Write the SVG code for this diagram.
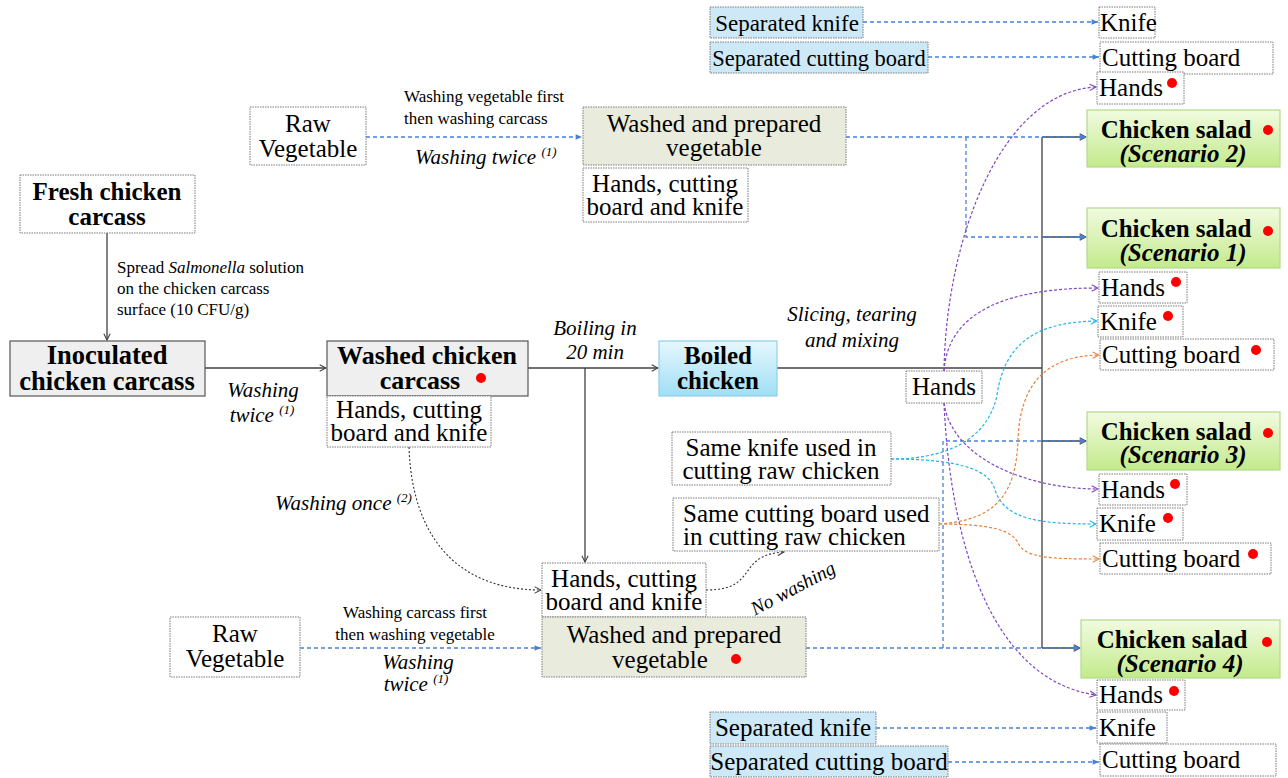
<svg xmlns="http://www.w3.org/2000/svg" width="1288" height="778" viewBox="0 0 1288 778">
<defs>
<style>
.t{font-family:"Liberation Serif","Times New Roman",serif;font-size:25px;fill:#000}
.b{font-weight:bold}
.i{font-style:italic}
.s{font-size:17px}
.m{text-anchor:middle}
.box{fill:#fff;stroke:#7a7a7a;stroke-width:1;stroke-dasharray:1.5 1}
.grey{fill:#efefef;stroke:#555;stroke-width:1.2}
.sep{fill:#cde9f8;stroke:#7a7a7a;stroke-width:1;stroke-dasharray:1.5 1}
.veg{fill:#e9ecdd;stroke:#7a7a7a;stroke-width:1;stroke-dasharray:1.5 1}
.salad{fill:url(#gSalad);stroke:#b3d98a;stroke-width:1.2}
.boiled{fill:url(#gBoil);stroke:#8fd0ea;stroke-width:1.2}
.dot{fill:#f00}
.solid{fill:none;stroke:#404040;stroke-width:1.3}
.blue{fill:none;stroke:#4a80d2;stroke-width:1.3;stroke-dasharray:4 3}
.pur{fill:none;stroke:#7e46c4;stroke-width:1.2;stroke-dasharray:3 2}
.cya{fill:none;stroke:#22b4ea;stroke-width:1.2;stroke-dasharray:3 2}
.ora{fill:none;stroke:#e9813a;stroke-width:1.2;stroke-dasharray:3 2}
.blk{fill:none;stroke:#333;stroke-width:1.1;stroke-dasharray:2 2}
.lbl{font-size:21px}
.sup{font-size:13px}
</style>
<linearGradient id="gSalad" x1="0" y1="0" x2="0" y2="1"><stop offset="0" stop-color="#f1fbe0"/><stop offset="1" stop-color="#c3ea8c"/></linearGradient>
<linearGradient id="gBoil" x1="0" y1="0" x2="0" y2="1"><stop offset="0" stop-color="#e6f7fd"/><stop offset="1" stop-color="#9fdff5"/></linearGradient>
<marker id="aK" viewBox="0 0 10 10" refX="9" refY="5" markerWidth="9" markerHeight="9" orient="auto" markerUnits="userSpaceOnUse"><path d="M2,1.5 L9,5 L2,8.5" fill="none" stroke="#404040" stroke-width="1.2"/></marker>
<marker id="aB" viewBox="0 0 10 10" refX="9" refY="5" markerWidth="8" markerHeight="8" orient="auto" markerUnits="userSpaceOnUse"><path d="M1,1.5 L9,5 L1,8.5 Z" fill="#4a80d2"/></marker>
<marker id="aP" viewBox="0 0 10 10" refX="9" refY="5" markerWidth="9" markerHeight="9" orient="auto" markerUnits="userSpaceOnUse"><path d="M2,1.5 L9,5 L2,8.5" fill="none" stroke="#7e46c4" stroke-width="1.2"/></marker>
<marker id="aC" viewBox="0 0 10 10" refX="9" refY="5" markerWidth="9" markerHeight="9" orient="auto" markerUnits="userSpaceOnUse"><path d="M2,1.5 L9,5 L2,8.5" fill="none" stroke="#22b4ea" stroke-width="1.2"/></marker>
<marker id="aO" viewBox="0 0 10 10" refX="9" refY="5" markerWidth="9" markerHeight="9" orient="auto" markerUnits="userSpaceOnUse"><path d="M2,1.5 L9,5 L2,8.5" fill="none" stroke="#e9813a" stroke-width="1.2"/></marker>
<marker id="aD" viewBox="0 0 10 10" refX="9" refY="5" markerWidth="9" markerHeight="9" orient="auto" markerUnits="userSpaceOnUse"><path d="M2,1.5 L9,5 L2,8.5" fill="none" stroke="#333" stroke-width="1.1"/></marker>
</defs>
<rect width="1288" height="778" fill="#fff"/>

<g id="connectors">
<path class="solid" d="M107,233 V340" marker-end="url(#aK)"/>
<path class="solid" d="M205,368 H326" marker-end="url(#aK)"/>
<path class="solid" d="M528,368 H658" marker-end="url(#aK)"/>
<path class="solid" d="M585,368 V562" marker-end="url(#aK)"/>
<path class="solid" d="M777,368 H1042"/>
<path class="solid" d="M1042,137 V648"/>
<path class="solid" d="M1042,137 H1086" marker-end="url(#aK)"/>
<path class="solid" d="M1042,237 H1086" marker-end="url(#aK)"/>
<path class="solid" d="M1042,441 H1086" marker-end="url(#aK)"/>
<path class="solid" d="M1042,648 H1080" marker-end="url(#aK)"/>
<path class="blue" d="M863,22 H1098" marker-end="url(#aB)"/>
<path class="blue" d="M928,57 H1099" marker-end="url(#aB)"/>
<path class="blue" d="M366,137 H582" marker-end="url(#aB)"/>
<path class="blue" d="M846,137 H1086" marker-end="url(#aB)"/>
<path class="blue" d="M966,137 V237 H1086" marker-end="url(#aB)"/>
<path class="blue" d="M300,648 H541" marker-end="url(#aB)"/>
<path class="blue" d="M806,648 H1080" marker-end="url(#aB)"/>
<path class="blue" d="M943,648 V441 H1086" marker-end="url(#aB)"/>
<path class="blue" d="M876,728 H1096" marker-end="url(#aB)"/>
<path class="blue" d="M948,762 H1099" marker-end="url(#aB)"/>
<path class="pur" d="M944,371 C946,240 1000,92 1096,87" marker-end="url(#aP)"/>
<path class="pur" d="M944,371 C948,310 1010,288 1098,288" marker-end="url(#aP)"/>
<path class="pur" d="M944,403 C952,460 1030,489 1098,489" marker-end="url(#aP)"/>
<path class="pur" d="M944,403 C950,540 990,680 1096,695" marker-end="url(#aP)"/>
<path class="cya" d="M891,459 C960,459 990,430 997,395 C1005,340 1040,322 1097,321" marker-end="url(#aC)"/>
<path class="cya" d="M891,459 C960,459 990,470 995,490 C1005,520 1040,524 1096,524" marker-end="url(#aC)"/>
<path class="ora" d="M939,524 C1000,520 1016,490 1018,440 C1020,380 1050,356 1099,355" marker-end="url(#aO)"/>
<path class="ora" d="M939,524 C990,524 1012,530 1018,543 C1025,558 1050,559 1099,559" marker-end="url(#aO)"/>
<path class="blk" d="M409,447 C412,540 460,590 541,590" marker-end="url(#aD)"/>
<path class="blk" d="M706,590 C760,590 735,555 784,552" marker-end="url(#aD)"/>
</g>

<g id="sep-knife-top"><rect class="sep" x="710" y="7" width="153" height="31"/><text class="t m" x="787" y="31" style="font-size:23px">Separated knife</text></g>
<g id="sep-board-top"><rect class="sep" x="710" y="42" width="218" height="31"/><text class="t m" x="819" y="66" style="font-size:22.5px">Separated cutting board</text></g>
<g id="knife-top"><rect class="box" x="1099" y="7" width="56" height="31"/><text class="t" x="1100" y="31">Knife</text></g>
<g id="board-top"><rect class="box" x="1100" y="42" width="173" height="32"/><text class="t" x="1102" y="66">Cutting board</text></g>
<g id="hands-s2"><rect class="box" x="1097" y="72" width="87" height="32"/><text class="t" x="1099" y="96">Hands</text><circle class="dot" cx="1172" cy="83" r="5"/></g>
<g id="salad-s2"><rect class="salad" x="1087" y="110" width="193" height="57"/><text class="t b m" x="1176" y="138">Chicken salad</text><text class="t b i m" x="1183" y="162">(Scenario 2)</text><circle class="dot" cx="1268" cy="130" r="5"/></g>

<g id="raw-veg-top"><rect class="box" x="250" y="107" width="116" height="58"/><text class="t m" x="308" y="132">Raw</text><text class="t m" x="308" y="157">Vegetable</text></g>
<g id="lbl-veg-first"><text class="t s" x="404" y="102">Washing vegetable first</text><text class="t s" x="404" y="124">then washing carcass</text><text class="t i lbl" x="415" y="164">Washing twice <tspan class="sup" dy="-8">(1)</tspan></text></g>
<g id="washed-veg-top"><rect class="veg" x="583" y="107" width="263" height="58"/><text class="t m" x="714" y="132">Washed and prepared</text><text class="t m" x="714" y="156">vegetable</text></g>
<g id="hcbk-top"><rect class="box" x="583" y="168" width="165" height="54"/><text class="t m" x="665" y="192">Hands, cutting</text><text class="t m" x="665" y="215">board and knife</text></g>

<g id="fresh"><rect class="box" x="20" y="175" width="175" height="58"/><text class="t b m" x="107" y="200">Fresh chicken</text><text class="t b m" x="107" y="225">carcass</text></g>
<g id="lbl-spread"><text class="t s" x="117" y="273">Spread <tspan font-style="italic">Salmonella</tspan> solution</text><text class="t s" x="117" y="294">on the chicken carcass</text><text class="t s" x="117" y="315">surface (10 CFU/g)</text></g>
<g id="inoculated"><rect class="grey" x="10" y="341" width="195" height="55"/><text class="t b m" x="107" y="364" style="font-size:26.5px">Inoculated</text><text class="t b m" x="107" y="390" style="font-size:26.5px">chicken carcass</text></g>
<g id="lbl-wash-twice"><text class="t i m lbl" x="263" y="397">Washing</text><text class="t i m lbl" x="262" y="422">twice <tspan class="sup" dy="-8">(1)</tspan></text></g>
<g id="washed-carcass"><rect class="grey" x="327" y="341" width="201" height="55"/><text class="t b m" x="427" y="364" style="font-size:26px">Washed chicken</text><text class="t b m" x="420" y="389" style="font-size:26px">carcass</text><circle class="dot" cx="481" cy="378" r="5"/></g>
<g id="hcbk-mid"><rect class="box" x="327" y="396" width="164" height="51"/><text class="t m" x="409" y="418">Hands, cutting</text><text class="t m" x="409" y="441">board and knife</text></g>
<g id="lbl-boil"><text class="t i m lbl" x="595" y="335">Boiling in</text><text class="t i m lbl" x="595" y="359">20 min</text></g>
<g id="boiled"><rect class="boiled" x="659" y="341" width="118" height="55"/><text class="t b m" x="718" y="364">Boiled</text><text class="t b m" x="718" y="389">chicken</text></g>
<g id="lbl-slice"><text class="t i m lbl" x="852" y="321">Slicing, tearing</text><text class="t i m lbl" x="852" y="347">and mixing</text></g>
<g id="hands"><rect class="box" x="906" y="371" width="76" height="32"/><text class="t m" x="944" y="395">Hands</text></g>

<g id="same-knife"><rect class="box" x="672" y="432" width="219" height="53"/><text class="t m" x="781" y="456">Same knife used in</text><text class="t m" x="781" y="479">cutting raw chicken</text></g>
<g id="same-board"><rect class="box" x="673" y="498" width="266" height="53"/><text class="t" x="683" y="522">Same cutting board used</text><text class="t" x="683" y="545">in cutting raw chicken</text></g>
<g id="lbl-once"><text class="t i lbl" x="275" y="510">Washing once <tspan class="sup" dy="-8">(2)</tspan></text></g>
<g id="hcbk-bot"><rect class="box" x="542" y="563" width="164" height="54"/><text class="t m" x="624" y="587">Hands, cutting</text><text class="t m" x="624" y="610">board and knife</text></g>
<g id="lbl-nowash"><text class="t i m" x="796" y="594" style="font-size:19.5px" transform="rotate(-28 796 594)">No washing</text></g>
<g id="washed-veg-bot"><rect class="veg" x="542" y="617" width="264" height="60"/><text class="t m" x="674" y="643">Washed and prepared</text><text class="t m" x="660" y="668">vegetable</text><circle class="dot" cx="736" cy="659" r="5"/></g>
<g id="raw-veg-bot"><rect class="box" x="170" y="617" width="130" height="60"/><text class="t m" x="235" y="642">Raw</text><text class="t m" x="235" y="667">Vegetable</text></g>
<g id="lbl-carcass-first"><text class="t s m" x="415" y="618">Washing carcass first</text><text class="t s m" x="415" y="640">then washing vegetable</text><text class="t i m lbl" x="418" y="669">Washing</text><text class="t i m lbl" x="416" y="691">twice <tspan class="sup" dy="-8">(1)</tspan></text></g>

<g id="salad-s1"><rect class="salad" x="1087" y="208" width="193" height="60"/><text class="t b m" x="1176" y="237">Chicken salad</text><text class="t b i m" x="1183" y="261">(Scenario 1)</text><circle class="dot" cx="1268" cy="231" r="5"/></g>
<g id="hands-s1"><rect class="box" x="1099" y="272" width="88" height="31"/><text class="t" x="1101" y="296">Hands</text><circle class="dot" cx="1176" cy="282" r="5"/></g>
<g id="knife-s1"><rect class="box" x="1098" y="306" width="85" height="31"/><text class="t" x="1100" y="330">Knife</text><circle class="dot" cx="1168" cy="316" r="5"/></g>
<g id="board-s1"><rect class="box" x="1100" y="339" width="174" height="31"/><text class="t" x="1102" y="363">Cutting board</text><circle class="dot" cx="1256" cy="350" r="5"/></g>

<g id="salad-s3"><rect class="salad" x="1087" y="412" width="193" height="58"/><text class="t b m" x="1176" y="440">Chicken salad</text><text class="t b i m" x="1183" y="463">(Scenario 3)</text><circle class="dot" cx="1268" cy="433" r="5"/></g>
<g id="hands-s3"><rect class="box" x="1099" y="474" width="88" height="31"/><text class="t" x="1101" y="498">Hands</text><circle class="dot" cx="1175" cy="484" r="5"/></g>
<g id="knife-s3"><rect class="box" x="1097" y="508" width="86" height="32"/><text class="t" x="1099" y="532">Knife</text><circle class="dot" cx="1168" cy="518" r="5"/></g>
<g id="board-s3"><rect class="box" x="1100" y="543" width="171" height="31"/><text class="t" x="1102" y="567">Cutting board</text><circle class="dot" cx="1253" cy="554" r="5"/></g>

<g id="salad-s4"><rect class="salad" x="1081" y="620" width="199" height="58"/><text class="t b m" x="1172" y="648">Chicken salad</text><text class="t b i m" x="1180" y="672">(Scenario 4)</text><circle class="dot" cx="1267" cy="642" r="5"/></g>
<g id="hands-s4"><rect class="box" x="1097" y="680" width="88" height="30"/><text class="t" x="1099" y="703">Hands</text><circle class="dot" cx="1174" cy="691" r="5"/></g>
<g id="knife-s4"><rect class="box" x="1097" y="712" width="70" height="31"/><text class="t" x="1099" y="736">Knife</text></g>
<g id="board-s4"><rect class="box" x="1100" y="744" width="176" height="32"/><text class="t" x="1102" y="768">Cutting board</text></g>
<g id="sep-knife-bot"><rect class="sep" x="710" y="712" width="166" height="32"/><text class="t m" x="793" y="736">Separated knife</text></g>
<g id="sep-board-bot"><rect class="sep" x="710" y="746" width="238" height="31"/><text class="t m" x="829" y="770">Separated cutting board</text></g>
</svg>
